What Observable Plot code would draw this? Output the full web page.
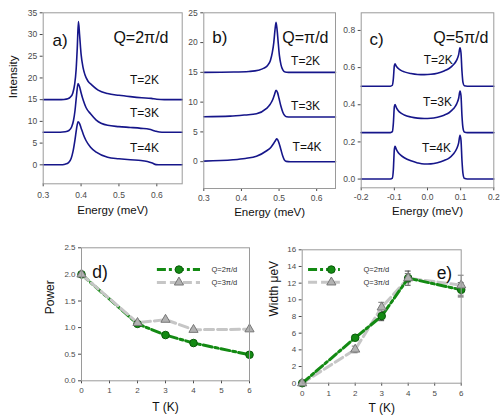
<!DOCTYPE html>
<html><head><meta charset="utf-8">
<script src="https://cdn.jsdelivr.net/npm/d3@7"></script>
<script src="https://cdn.jsdelivr.net/npm/@observablehq/plot@0.6"></script>
<style>
body{margin:0;background:#fff;}
#wrap{position:relative;width:500px;height:418px;overflow:hidden;background:#fff;}
.panel{position:absolute;}
</style></head><body><div id="wrap"></div>
<script>
// ---------- data: spectra [energy meV, intensity] ----------
const a2K = [[0.300,15.0],[0.340,15.0],[0.355,15.05],[0.365,15.2],[0.372,15.6],[0.378,16.5],[0.383,18.5],[0.387,22],[0.390,27],[0.393,33.0],[0.396,30],[0.400,25.5],[0.405,22.5],[0.410,20.8],[0.418,19.3],[0.428,18.4],[0.445,17.2],[0.470,16.4],[0.500,16.0],[0.530,15.7],[0.560,15.45],[0.585,15.3],[0.600,15.08],[0.620,15.0],[0.667,15.0]];
const a3K = [[0.300,7.5],[0.345,7.5],[0.358,7.6],[0.368,7.9],[0.375,8.7],[0.380,10.2],[0.384,12.5],[0.388,16.0],[0.392,18.7],[0.396,18.0],[0.400,16.6],[0.406,14.8],[0.413,13.2],[0.425,11.75],[0.440,10.3],[0.470,9.1],[0.500,8.8],[0.530,8.6],[0.558,8.4],[0.580,8.2],[0.595,7.8],[0.607,7.55],[0.620,7.5],[0.667,7.5]];
const a4K = [[0.300,0.0],[0.345,0.0],[0.358,0.15],[0.367,0.5],[0.374,1.5],[0.379,3.2],[0.384,5.8],[0.388,8.3],[0.392,9.9],[0.396,9.5],[0.400,8.5],[0.406,7.0],[0.413,5.6],[0.425,4.05],[0.440,2.9],[0.470,1.75],[0.500,1.4],[0.530,1.15],[0.558,1.0],[0.575,0.75],[0.588,0.4],[0.598,0.05],[0.610,0.0],[0.667,0.0]];
const b2K = [[0.300,15.0],[0.380,15.05],[0.420,15.15],[0.445,15.35],[0.460,15.7],[0.470,16.2],[0.477,17.0],[0.482,18.3],[0.486,20.0],[0.489,22.0],[0.492,23.4],[0.495,22.0],[0.498,19.8],[0.501,17.8],[0.505,16.3],[0.510,15.4],[0.516,15.05],[0.525,15.0],[0.650,15.0]];
const b3K = [[0.300,7.55],[0.370,7.65],[0.410,7.85],[0.440,8.05],[0.466,8.9],[0.476,9.6],[0.483,10.4],[0.488,11.3],[0.492,12.0],[0.496,11.6],[0.500,10.6],[0.505,9.3],[0.510,8.3],[0.515,7.75],[0.520,7.55],[0.530,7.5],[0.650,7.5]];
const b4K = [[0.300,0.1],[0.378,0.33],[0.410,0.55],[0.440,0.9],[0.466,1.8],[0.478,2.4],[0.486,3.1],[0.491,3.6],[0.494,3.85],[0.497,3.6],[0.501,2.9],[0.505,2.0],[0.510,0.9],[0.514,0.3],[0.519,0.05],[0.530,0.0],[0.650,0.0]];
const c2K = [[-0.2,0.5],[-0.112,0.5],[-0.106,0.505],[-0.103,0.54],[-0.1,0.61],[-0.098,0.62],[-0.094,0.607],[-0.088,0.595],[-0.08,0.585],[-0.07,0.577],[-0.05,0.568],[-0.03,0.563],[-0.01,0.562],[0.01,0.564],[0.03,0.57],[0.05,0.582],[0.065,0.595],[0.078,0.615],[0.088,0.64],[0.094,0.67],[0.098,0.707],[0.101,0.68],[0.104,0.58],[0.107,0.52],[0.111,0.502],[0.12,0.5],[0.2,0.5]];
const c3K = [[-0.2,0.25],[-0.112,0.25],[-0.106,0.255],[-0.103,0.3],[-0.1,0.39],[-0.098,0.401],[-0.094,0.385],[-0.088,0.368],[-0.08,0.355],[-0.07,0.345],[-0.05,0.334],[-0.03,0.328],[-0.01,0.326],[0.01,0.327],[0.03,0.333],[0.05,0.344],[0.065,0.357],[0.078,0.378],[0.088,0.405],[0.094,0.435],[0.098,0.474],[0.101,0.45],[0.104,0.34],[0.107,0.275],[0.111,0.253],[0.12,0.25],[0.2,0.25]];
const c4K = [[-0.2,0],[-0.112,0],[-0.106,0.005],[-0.103,0.05],[-0.1,0.16],[-0.098,0.177],[-0.094,0.16],[-0.088,0.142],[-0.08,0.128],[-0.07,0.115],[-0.05,0.098],[-0.03,0.087],[-0.01,0.081],[0.01,0.082],[0.03,0.088],[0.05,0.1],[0.065,0.113],[0.078,0.135],[0.088,0.163],[0.094,0.195],[0.098,0.236],[0.101,0.21],[0.104,0.1],[0.107,0.03],[0.111,0.004],[0.12,0],[0.2,0]];

// ---------- data: fit parameters vs temperature ----------
const temps = [0, 2, 3, 4, 6];
const powerQ2 = [2.0, 1.07, 0.86, 0.71, 0.49];
const powerQ3 = [2.0, 1.09, 1.15, 0.96, 0.97];
const widthQ2 = [0, 5.45, 8.05, 12.6, 11.2];
const widthQ3 = [0, 4.05, 9.1, 12.6, 11.75];
const widthQ2err = [0, 0.2, 0.55, 0.85, 0.85];
const widthQ3err = [0, 0.4, 0.6, 0.55, 1.2];

// ---------- tick labels / annotations ----------
const ticksAx = [0.3, 0.4, 0.5, 0.6], ticksAy = [0, 5, 10, 15, 20, 25, 30, 35];
const ticksBx = [0.3, 0.4, 0.5, 0.6], ticksBy = [0, 5, 10, 15, 20, 25];
const ticksCx = [-0.2, -0.1, 0.0, 0.1, 0.2], ticksCy = [0, 0.2, 0.4, 0.6, 0.8];
const ticksT = [0, 1, 2, 3, 4, 5, 6];
const ticksPower = [0, 0.5, 1.0, 1.5, 2.0, 2.5];
const ticksWidth = [0, 2, 4, 6, 8, 10, 12, 14, 16];
const tempLabelsA = [{x: 0.529, y: 19.6, t: "T=2K"}, {x: 0.529, y: 12.0, t: "T=3K"}, {x: 0.529, y: 3.8, t: "T=4K"}];
const tempLabelsB = [{x: 0.532, y: 16.9, t: "T=2K"}, {x: 0.532, y: 9.3, t: "T=3K"}, {x: 0.536, y: 2.45, t: "T=4K"}];
const tempLabelsC = [{x: 0.076, y: 0.639, t: "T=2K"}, {x: 0.074, y: 0.415, t: "T=3K"}, {x: 0.071, y: 0.165, t: "T=4K"}];
const legendD = [{x1: 2.71, x2: 4.25, xm: 3.48, xt: 4.64, y: 2.09, s: "Q2", t: "Q=2π/d"}, {x1: 2.71, x2: 4.25, xm: 3.48, xt: 4.64, y: 1.85, s: "Q3", t: "Q=3π/d"}];
const legendE = [{x1: 0.24, x2: 1.44, xm: 1.1, xt: 2.31, y: 13.63, s: "Q2", t: "Q=2π/d"}, {x1: 0.24, x2: 1.44, xm: 1.1, xt: 2.31, y: 12.1, s: "Q3", t: "Q=3π/d"}];

// ---------- styling ----------
const FONT = "'Liberation Sans', Arial, sans-serif";
const NAVY = "#16168a";
const GREEN = "#138a13", GREEN_DK = "#0a5a0a";
const GREYL = "#c6c6c6", TRI = "#b2b2b2", TRI_DK = "#777";
const fmt1 = d => d.toFixed(1);
const fmt0 = d => String(d);

const wrap = document.getElementById("wrap");
function place(el, left, top) {
  const div = document.createElement("div");
  div.className = "panel";
  div.style.left = left + "px"; div.style.top = top + "px";
  div.appendChild(el); wrap.appendChild(div);
}
function base(o) {
  return Plot.plot({
    width: o.w, height: o.h,
    marginLeft: o.ml, marginRight: o.mr, marginTop: o.mt, marginBottom: o.mb,
    style: {fontFamily: FONT, background: "transparent", overflow: "visible", color: "#4a4a4a"},
    x: {domain: o.xd}, y: {domain: o.yd},
    marks: [
      Plot.axisX(o.xt, {tickFormat: o.xf, tickSize: 3, tickPadding: o.xpad, fontSize: o.fs, label: null}),
      Plot.axisY(o.yt, {tickFormat: o.yf, tickSize: 3, tickPadding: 3, fontSize: o.fs, label: null}),
      ...o.marks,
      Plot.frame({stroke: "#9a9a9a"}),
      Plot.text([o.xl], {frameAnchor: "bottom", dy: o.xldy, fontSize: o.lfs, fill: "#111"}),
      Plot.text([o.yl], {frameAnchor: "left", dx: o.yldx, rotate: -90, fontSize: o.lfs, fill: "#111"})
    ]
  });
}
function spectra(curves) {
  return curves.map(c => Plot.line(c, {x: d => d[0], y: d => d[1], stroke: NAVY, strokeWidth: 1.6, curve: "monotone-x"}));
}
function tlabels(arr, anchor) {
  return Plot.text(arr, {x: "x", y: "y", text: "t", textAnchor: anchor, fontSize: 12, fill: "#111"});
}
function corner(txt, anchor, dx, dy, fs) {
  return Plot.text([txt], {frameAnchor: anchor, textAnchor: anchor.endsWith("right") ? "end" : "start", dx, dy, fontSize: fs, fill: "#111"});
}

// panel a
place(base({
  w: 185, h: 220, ml: 42.7, mr: 3.3, mt: 12.3, mb: 36.7,
  xd: [0.3, 0.667], yd: [-4.37, 35], xt: ticksAx, yt: ticksAy, xf: fmt1, yf: fmt0, xpad: 5, fs: 8.5,
  xl: "Energy (meV)", xldy: 30, yl: "Intensity", yldx: -29.5, lfs: 11.5,
  marks: [...spectra([a2K, a3K, a4K]), tlabels(tempLabelsA, "start"),
    corner("a)", "top-left", 9.3, 21.5, 17), corner("Q=2π/d", "top-right", -13.7, 19, 16)]
}), 0, 0);

// panel b
place(base({
  w: 155, h: 220, ml: 18.3, mr: 5, mt: 12.3, mb: 32,
  xd: [0.3, 0.65], yd: [-4.5, 25], xt: ticksBx, yt: ticksBy, xf: fmt1, yf: fmt0, xpad: 3.5, fs: 8.5,
  xl: "Energy (meV)", xldy: 27, yl: "", yldx: 0, lfs: 11.5,
  marks: [...spectra([b2K, b3K, b4K]), tlabels(tempLabelsB, "start"),
    corner("b)", "top-left", 8.4, 18, 17), corner("Q=π/d", "top-right", -7, 18.5, 16)]
}), 185, 0);

// panel c
place(base({
  w: 160, h: 220, ml: 20.7, mr: 6.7, mt: 12.3, mb: 32.7,
  xd: [-0.2, 0.2], yd: [-0.047, 0.895], xt: ticksCx, yt: ticksCy, xf: fmt1, yf: fmt1, xpad: 3.5, fs: 8.5,
  xl: "Energy (meV)", xldy: 27.5, yl: "", yldx: 0, lfs: 11.5,
  marks: [...spectra([c2K, c3K, c4K]), tlabels(tempLabelsC, "end"),
    corner("c)", "top-left", 8.3, 20.5, 17), corner("Q=5π/d", "top-right", -5.5, 18.5, 16)]
}), 340, 0);

// bottom panels
const rows = temps.map((t, i) => ({T: t, p2: powerQ2[i], p3: powerQ3[i], w2: widthQ2[i], w3: widthQ3[i], e2: widthQ2err[i], e3: widthQ3err[i]}));

function legendMarks(L) {
  const g = L.filter(d => d.s === "Q2"), s = L.filter(d => d.s === "Q3");
  return [
    Plot.ruleY(g, {y: "y", x1: "x1", x2: "x2", stroke: GREEN, strokeWidth: 3, strokeDasharray: "9,3,3,3"}),
    Plot.ruleY(s, {y: "y", x1: "x1", x2: "x2", stroke: GREYL, strokeWidth: 3, strokeDasharray: "9,4"}),
    Plot.dot(g, {x: "xm", y: "y", r: 3.8, fill: GREEN, stroke: GREEN_DK, strokeWidth: 1}),
    Plot.dot(s, {x: "xm", y: "y", r: 3.4, symbol: "triangle", fill: TRI, stroke: TRI_DK, strokeWidth: 1}),
    Plot.text(L, {x: "xt", y: "y", text: "t", textAnchor: "start", fontSize: 7.5, fill: "#333"})
  ];
}

// panel d
place(base({
  w: 252, h: 198, ml: 81, mr: 3, mt: 27.3, mb: 37.7,
  xd: [0, 6], yd: [0, 2.5], xt: ticksT, yt: ticksPower, xf: fmt0, yf: fmt1, xpad: 4, fs: 8,
  xl: "T (K)", xldy: 30.5, yl: "Power", yldx: -31, lfs: 12,
  marks: [
    Plot.line(rows, {x: "T", y: "p2", stroke: GREEN, strokeWidth: 3, strokeDasharray: "9,3,3,3"}),
    Plot.line(rows, {x: "T", y: "p3", stroke: GREYL, strokeWidth: 3, strokeDasharray: "9,4"}),
    Plot.dot(rows, {x: "T", y: "p2", r: 3.8, fill: GREEN, stroke: GREEN_DK, strokeWidth: 1}),
    Plot.dot(rows, {x: "T", y: "p3", r: 3.4, symbol: "triangle", fill: TRI, stroke: TRI_DK, strokeWidth: 1}),
    ...legendMarks(legendD),
    corner("d)", "top-left", 10.7, 17.7, 17.5)
  ]
}), 0, 220);

// panel e
const errRows = rows.filter(d => d.T > 0);
place(base({
  w: 248, h: 198, ml: 49.7, mr: 39.3, mt: 29.3, mb: 35.3,
  xd: [0, 6], yd: [0, 16], xt: ticksT, yt: ticksWidth, xf: fmt0, yf: fmt0, xpad: 4, fs: 8,
  xl: "T (K)", xldy: 29, yl: "Width μeV", yldx: -28.4, lfs: 12,
  marks: [
    Plot.ruleX(errRows, {x: "T", y1: d => d.w2 - d.e2, y2: d => d.w2 + d.e2, stroke: "#444", strokeWidth: 1}),
    Plot.ruleY(errRows, {y: d => d.w2 + d.e2, x1: d => d.T - 0.11, x2: d => d.T + 0.11, stroke: "#444", strokeWidth: 1}),
    Plot.ruleY(errRows, {y: d => d.w2 - d.e2, x1: d => d.T - 0.11, x2: d => d.T + 0.11, stroke: "#444", strokeWidth: 1}),
    Plot.ruleX(errRows, {x: "T", y1: d => d.w3 - d.e3, y2: d => d.w3 + d.e3, stroke: "#777", strokeWidth: 1}),
    Plot.ruleY(errRows, {y: d => d.w3 + d.e3, x1: d => d.T - 0.11, x2: d => d.T + 0.11, stroke: "#777", strokeWidth: 1}),
    Plot.ruleY(errRows, {y: d => d.w3 - d.e3, x1: d => d.T - 0.11, x2: d => d.T + 0.11, stroke: "#777", strokeWidth: 1}),
    Plot.line(rows, {x: "T", y: "w3", stroke: GREYL, strokeWidth: 3, strokeDasharray: "9,4"}),
    Plot.line(rows, {x: "T", y: "w2", stroke: GREEN, strokeWidth: 3, strokeDasharray: "9,3,3,3"}),
    Plot.dot(rows, {x: "T", y: "w2", r: 3.8, fill: GREEN, stroke: GREEN_DK, strokeWidth: 1}),
    Plot.dot(rows, {x: "T", y: "w3", r: 3.4, symbol: "triangle", fill: TRI, stroke: TRI_DK, strokeWidth: 1}),
    ...legendMarks(legendE),
    corner("e)", "top-right", -9, 16.7, 17.5)
  ]
}), 252, 220);
</script></body></html>
